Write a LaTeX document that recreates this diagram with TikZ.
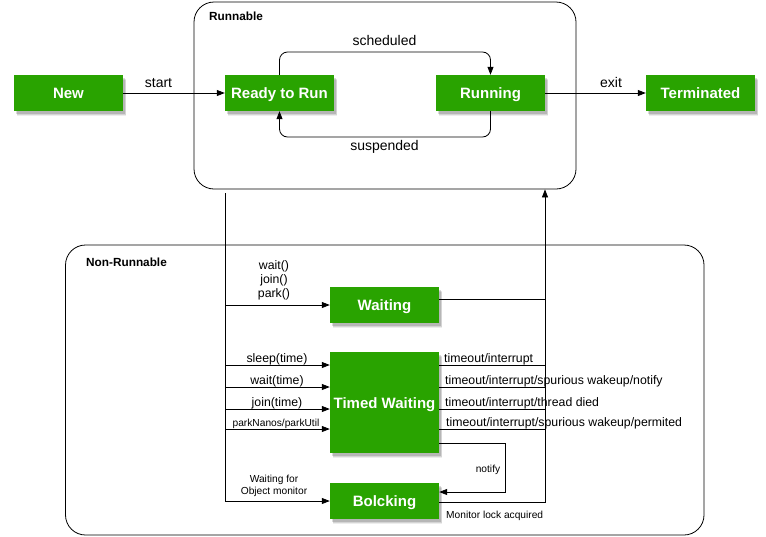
\documentclass[tikz,border=0pt]{standalone}
\usepackage{fontspec}
\setmainfont{Liberation Sans}
\usetikzlibrary{arrows.meta,shadows}
\definecolor{stgreen}{RGB}{41,163,0}
\tikzset{
 state/.style={fill=stgreen, text=white, font=\fontsize{15}{17}\selectfont\bfseries,
   minimum width=109pt, minimum height=36pt, inner sep=0pt, text height=11.8pt, text depth=0pt,
   general shadow={shadow xshift=3pt, shadow yshift=-4.5pt, fill=black, opacity=0.07},
   general shadow={shadow xshift=2.5pt, shadow yshift=-3.5pt, fill=black, opacity=0.1},
   general shadow={shadow xshift=1.5pt, shadow yshift=-2.5pt, fill=black, opacity=0.14}},
 container/.style={draw, rounded corners=20pt, line width=0.8pt},
 arr/.style={-{Triangle[length=8pt,width=6pt]}, line width=0.8pt},
 ln/.style={line width=0.8pt},
 lbl/.style={font=\fontsize{14}{16}\selectfont, inner sep=0pt},
 mlbl/.style={font=\fontsize{12.3}{14}\selectfont, inner sep=0pt},
 slbl/.style={font=\fontsize{10.2}{12}\selectfont, inner sep=0pt},
 ctitle/.style={font=\fontsize{11.8}{14}\selectfont\bfseries, inner sep=0pt},
}
\begin{document}
\begin{tikzpicture}[x=1pt,y=-1pt]
\useasboundingbox (0,0) rectangle (766,536);
\fill[white] (0,0) rectangle (766,536);
% containers
\node[container, minimum width=382pt, minimum height=187pt] (runnable) at (385,95.5) {};
\node[container, minimum width=638.5pt, minimum height=290pt] (nonrun) at (384.75,390) {};
\node[ctitle, anchor=base west] (trun) at (209,20) {Runnable};
\node[ctitle, anchor=base west] (tnon) at (86,266) {Non-Runnable};
% states
\node[state] (new) at (68.5,93) {New};
\node[state] (ready) at (279.5,93) {Ready to Run};
\node[state] (running) at (490.5,93) {Running};
\node[state] (term) at (700.5,93) {Terminated};
\node[state] (waiting) at (384.5,305) {Waiting};
\node[state, minimum height=101pt] (timed) at (384.5,402.5) {Timed Waiting};
\node[state] (bolck) at (384.5,501) {Bolcking};
% top row
\draw[arr] (new.east) -- (ready.west);
\node[lbl, anchor=base] (lstart) at (158.5,87) {start};
\draw[arr] (running.east) -- (term.west);
\node[lbl, anchor=base] (lexit) at (611,87) {exit};
\coordinate (sch) at (0,52);
\coordinate (sus) at (0,137);
\draw[arr, rounded corners=8pt] (ready.north) -- (ready.north |- sch) -- (running.north |- sch) -- (running.north);
\draw[arr, rounded corners=8pt] (running.south) -- (running.south |- sus) -- (ready.south |- sus) -- (ready.south);
\node[lbl, anchor=base] (lsch) at (384.5,45) {scheduled};
\node[lbl, anchor=base] (lsus) at (384.5,150) {suspended};
% left trunk
\coordinate (ltop) at (225,193);
\coordinate (lbot) at (225,501);
\draw[arr] (ltop) -- (lbot) -- (bolck.west);
\coordinate (jw) at (225,305);
\draw[arr] (jw) -- (waiting.west);
\coordinate (j1) at (225,365);
\coordinate (j2) at (225,387);
\coordinate (j3) at (225,409);
\coordinate (j4) at (225,429);
\foreach \j in {j1,j2,j3,j4} \draw[arr] (\j) -- (\j -| timed.west);
\node[mlbl, anchor=base] (lw1) at (274,269) {wait()};
\node[mlbl, anchor=base] (lw2) at (274,283) {join()};
\node[mlbl, anchor=base] (lw3) at (274,297) {park()};
\node[mlbl, anchor=base] (ls1) at (277,362) {sleep(time)};
\node[mlbl, anchor=base] (ls2) at (277,384) {wait(time)};
\node[mlbl, anchor=base] (ls3) at (277,406) {join(time)};
\node[slbl, anchor=base] (ls4) at (276,426) {parkNanos/parkUtil};
\node[slbl, anchor=base] (lb1) at (274,482) {Waiting for};
\node[slbl, anchor=base] (lb2) at (274,494) {Object monitor};
% right trunk
\coordinate (rw) at (545,299);
\draw[ln] (waiting.east |- rw) -- (rw);
\coordinate (r1) at (545,365);
\coordinate (r2) at (545,387);
\coordinate (r3) at (545,409);
\coordinate (r4) at (545,429);
\foreach \r in {r1,r2,r3,r4} \draw[ln] (\r -| timed.east) -- (\r);
\coordinate (rbot) at (545,502);
\draw[arr] (rbot -| bolck.east) -- (rbot) -- (rbot |- runnable.south);
\node[mlbl, anchor=base west] (lt1) at (444,362) {timeout/interrupt};
\node[mlbl, anchor=base west] (lt2) at (445,384) {timeout/interrupt/spurious wakeup/notify};
\node[mlbl, anchor=base west] (lt3) at (445,406) {timeout/interrupt/thread died};
\node[mlbl, anchor=base west] (lt4) at (446,426) {timeout/interrupt/spurious wakeup/permited};
% notify loop
\coordinate (n1) at (505,443);
\coordinate (n2) at (505,492);
\draw[arr] (n1 -| timed.east) -- (n1) -- (n2) -- (n2 -| bolck.east);
\node[slbl, anchor=base] (lnot) at (488,472) {notify};
\node[slbl, anchor=base west] (lmon) at (446,518) {Monitor lock acquired};
\end{tikzpicture}
\end{document}
